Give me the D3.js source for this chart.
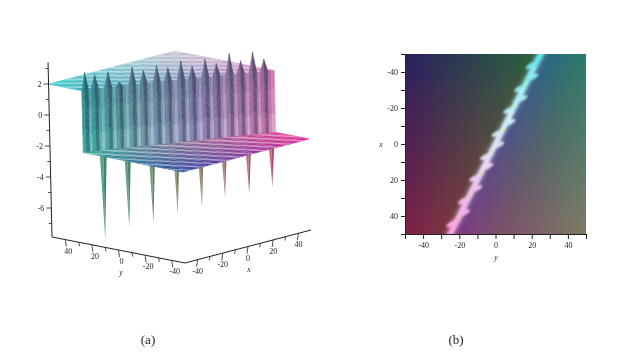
<!DOCTYPE html>
<html>
<head>
<meta charset="utf-8">
<script src="https://cdn.jsdelivr.net/npm/d3@7"></script>
<style>
  html, body { margin: 0; background: #fff; }
  text { font-family: "Liberation Serif", serif; fill: #222; }
</style>
</head>
<body>
<div id="chart"></div>
<script>
// values
const upSpikeX = [-48.4, -43.2, -36.3, -30.5, -23.7, -17.9, -11, -5.2, 1.6, 7.4, 14.2, 20, 26.8, 32.6, 38.9, 44.7];
const upSpikeZ = [3.15, 2.94, 3.03, 2.3, 3.17, 2.89, 3.11, 2.9, 3.25, 2.84, 3.19, 2.85, 3.39, 2.86, 3.34, 2.81];
const downSpikeX = [-39.6, -27, -14.4, -1.7, 10.9, 23, 35.6, 47.7];
const downSpikeZ = [-7.7, -7.1, -7, -6.6, -6.3, -5.8, -5.8, -5.5];
const wallEndX = [-50, 50];
const wallEndY = [25, -25];
const wispX = [-43.6, -37.2, -30.8, -25.2, -18.8, -12, -5.9, 0.5, 7, 12.5, 18.9, 24.8, 31.5, 38.2, 44.3];
const ridgeStops = [-56, -43.6, -30.8, -18.8, -5.9, 7, 18.9, 31.5, 44.3, 56];
const zTicks = [-7, -6, -5, -4, -3, -2, -1, 0, 1, 2, 3];

const wallY = d3.scaleLinear().domain(wallEndX).range(wallEndY);

const svg = d3.select('#chart').append('svg').attr('width', 633).attr('height', 352);
const defs = svg.append('defs');
function blur(id, sd) {
  defs.append('filter').attr('id', id).attr('x', '-30%').attr('y', '-30%').attr('width', '160%').attr('height', '160%')
    .append('feGaussianBlur').attr('stdDeviation', sd);
}
blur('soft', 0.6);
blur('textSoft', 0.22);
blur('glow', 1.1);
blur('wide', 2.2);
defs.append('clipPath').attr('id', 'heatClip').append('rect')
  .attr('x', 405).attr('y', 54).attr('width', 181).attr('height', 180);

// ---- panel (a), 3D surface ----
const zPx = d3.scaleLinear().domain([-7.87, 2]).range([0, 153]);
const xPxX = d3.scaleLinear().domain([-50, 50]).range([0, 126]);
const xPxY = d3.scaleLinear().domain([-50, 50]).range([0, -33]);
const yPxX = d3.scaleLinear().domain([-50, 50]).range([0, -133]);
const yPxY = d3.scaleLinear().domain([-50, 50]).range([0, -26]);

function proj(x, y, z) {
  const h = zPx(z);
  return [185 + xPxX(x) + yPxX(y) - h * 0.0226, 263 + xPxY(x) + yPxY(y) - h];
}

const bilinear = (cols) => (x, y) => {
  const u = (x + 50) / 100, v = (y + 50) / 100;
  return d3.interpolateRgb(
    d3.interpolateRgb(cols[0], cols[1])(u),
    d3.interpolateRgb(cols[2], cols[3])(u)
  )(v);
};
// corners: x-,y- / x+,y- / x-,y+ / x+,y+
const upperColor = bilinear(['#3a62c0', '#d878c0', '#36c8c6', '#c8c4d0']);
const lowerColor = bilinear(['#27409c', '#e02c98', '#2cc890', '#d89090']);
const wallColor = d3.scaleLinear().domain([-50, -20, 10, 50])
  .range(['#35a8a0', '#6a9aa8', '#8a82b4', '#c870a8']);
const downColor = d3.scaleLinear().domain([-50, 0, 50])
  .range(['#2f9a78', '#7e8a6a', '#c8506e']);

const g3d = svg.append('g').attr('filter', 'url(#soft)');
const line = d3.line();

// spikes under the lower plane
const downG = g3d.append('g');
downSpikeX.forEach((x, i) => {
  const y = wallY(x);
  const tip = proj(x, y, downSpikeZ[i]);
  const c = downColor(x);
  downG.append('path')
    .attr('d', line([proj(x - 2.8, y, -2), proj(x, y, -2), tip]) + 'Z')
    .attr('fill', d3.interpolateRgb(c, '#ffffff')(0.12));
  downG.append('path')
    .attr('d', line([proj(x, y, -2), proj(x + 2.8, y, -2), tip]) + 'Z')
    .attr('fill', d3.interpolateRgb(c, '#202020')(0.12));
});

let planeId = 0;
function plane(yFrom, yTo, z, color, tilt) {
  const g = g3d.append('g');
  const n = 40;
  const cells = [];
  d3.range(n).forEach(i => d3.range(n).forEach(j => cells.push([i, j])));
  const at = (i, j) => {
    const x = -50 + 100 * i / n;
    const a = yFrom(x), b = yTo(x);
    return [x, a + (b - a) * j / n];
  };
  g.selectAll('path').data(cells).enter().append('path')
    .attr('d', ([i, j]) => line([at(i, j), at(i + 1, j), at(i + 1, j + 1), at(i, j + 1)].map(p => proj(p[0], p[1], z))) + 'Z')
    .attr('fill', ([i, j]) => color(...at(i + 0.5, j + 0.5)))
    .attr('stroke', ([i, j]) => color(...at(i + 0.5, j + 0.5)))
    .attr('stroke-width', 0.5);
  // faint mesh both ways
  const step = 6.25;
  d3.range(-50, 50.01, step).forEach(x => {
    g.append('path')
      .attr('d', line([proj(x, yFrom(x), z), proj(x, yTo(x), z)]))
      .attr('stroke', '#fff').attr('stroke-opacity', 0.14).attr('stroke-width', 1).attr('fill', 'none');
  });
  d3.range(-50, 50.01, step).forEach(y => {
    const xs = d3.range(-50, 50.01, 1).filter(x => {
      const a = yFrom(x), b = yTo(x);
      return y >= Math.min(a, b) && y <= Math.max(a, b);
    });
    if (xs.length < 2) return;
    g.append('path')
      .attr('d', line([proj(xs[0], y, z), proj(xs[xs.length - 1], y, z)]))
      .attr('stroke', '#fff').attr('stroke-opacity', 0.14).attr('stroke-width', 1).attr('fill', 'none');
  });
  // the mesh beats into almost level bands in the raster, about 4px apart
  const id = 'planeClip' + (planeId++);
  const outline = [[-50, yFrom(-50)], [50, yFrom(50)], [50, yTo(50)], [-50, yTo(-50)]]
    .map(p => proj(p[0], p[1], z));
  defs.append('clipPath').attr('id', id).append('path').attr('d', line(outline) + 'Z');
  const bands = g.append('g').attr('clip-path', `url(#${id})`);
  const xExtent = d3.extent(outline, p => p[0]);
  const yExtent = d3.extent(outline, p => p[1]);
  d3.range(yExtent[0] - 30, yExtent[1] + 30, 3.9).forEach(b => {
    bands.append('path')
      .attr('d', line([[xExtent[0], b], [xExtent[1], b + (xExtent[1] - xExtent[0]) * tilt]]))
      .attr('stroke', '#fff').attr('stroke-opacity', 0.42).attr('stroke-width', 1.4).attr('fill', 'none');
  });
}

plane(x => wallY(x), () => 50, 2, upperColor, 0);

// wall with the pleats and the upper spikes
const nodes = [{ x: -50, z: 2 }];
const shades = [];
const pleatShades = [-0.14, -0.5, 0.0, 0.2];
const halfWidth = 2;
upSpikeX.forEach((x, i) => {
  const z = upSpikeZ[i];
  nodes.push({ x: Math.max(x - halfWidth, -49.9), z: 2 });
  shades.push(pleatShades[3]);
  nodes.push({ x, z });
  shades.push(pleatShades[0]);
  nodes.push({ x: x + halfWidth, z: 2 });
  shades.push(pleatShades[1]);
  const next = i < upSpikeX.length - 1 ? upSpikeX[i + 1] - halfWidth : 50;
  nodes.push({ x: (x + halfWidth + next) / 2, z: 2 });
  shades.push(pleatShades[2]);
});
nodes.push({ x: 50, z: 2 });
shades.push(pleatShades[3]);

const wallG = g3d.append('g');
const rows = 10;
d3.range(nodes.length - 1).forEach(k => {
  const a = nodes[k], b = nodes[k + 1];
  if (b.x <= a.x) return;
  d3.range(rows).forEach(r => {
    const t0 = r / rows, t1 = (r + 1) / rows;
    const pa = t => proj(a.x, wallY(a.x), -2 + (a.z + 2) * t);
    const pb = t => proj(b.x, wallY(b.x), -2 + (b.z + 2) * t);
    const base = wallColor((a.x + b.x) / 2);
    const s = shades[k] + (t0 < 0.25 ? 0.14 : 0) - (t0 > 0.6 ? 0.1 : 0);
    const col = s < 0
      ? d3.interpolateRgb(base, '#22304a')(-s)
      : d3.interpolateRgb(base, '#ffffff')(s);
    wallG.append('path')
      .attr('d', line([pa(t0), pb(t0), pb(t1), pa(t1)]) + 'Z')
      .attr('fill', col).attr('stroke', col).attr('stroke-width', 0.4);
  });
});

plane(() => -50, x => wallY(x), -2, lowerColor, 0.05);

// axes of panel (a)
const labels = svg.append('g').attr('filter', 'url(#textSoft)');
const axisA = svg.append('g').attr('stroke', '#222').attr('fill', 'none');
const zAxisX = z => proj(-50, 50, z)[0];
const zAxisY = z => proj(-50, 50, z)[1];
axisA.append('path').attr('d', line([[zAxisX(-7.87), zAxisY(-7.87)], [zAxisX(3.4), zAxisY(3.4)]])).attr('stroke-width', 1);
zTicks.forEach(z => {
  const major = z % 2 === 0;
  axisA.append('path').attr('stroke-width', 0.8)
    .attr('d', line([[zAxisX(z), zAxisY(z)], [zAxisX(z) - (major ? 5 : 3), zAxisY(z)]]));
  if (major) {
    labels.append('text').attr('x', zAxisX(z) - 7).attr('y', zAxisY(z) + 3)
      .attr('text-anchor', 'end').attr('font-size', 8).text(z);
  }
});
const boxZ = -7.87;
function slantAxis(from, to, values, labelShift, name, namePos) {
  axisA.append('path').attr('d', line([from, to])).attr('stroke-width', 1);
  values.forEach(v => {
    const p = proj(name === 'x' ? v : -50, name === 'y' ? v : -50, boxZ);
    const major = v % 20 === 0;
    axisA.append('path').attr('stroke-width', 0.8)
      .attr('d', line([p, [p[0] + (name === 'y' ? 1 : -1), p[1] + (major ? 7 : 4)]]));
    if (major) {
      labels.append('text').attr('x', p[0] + labelShift[0]).attr('y', p[1] + labelShift[1])
        .attr('text-anchor', 'middle').attr('font-size', 8).text(v);
    }
  });
  labels.append('text').attr('x', namePos[0]).attr('y', namePos[1])
    .attr('text-anchor', 'middle').attr('font-size', 7.5).attr('font-style', 'italic').text(name);
}
const axisVals = [-40, -30, -20, -10, 0, 10, 20, 30, 40];
slantAxis(proj(-50, 50, boxZ), proj(-50, -50, boxZ), axisVals, [3, 14], 'y', [121, 275]);
slantAxis(proj(-50, -50, boxZ), proj(50, -50, boxZ), axisVals, [0, 14], 'x', [249, 272]);

// ---- panel (b), density view ----
const xb = d3.scaleLinear().domain([-50, 50]).range([405, 586]);
const yb = d3.scaleLinear().domain([-50, 50]).range([54, 234]);
const redOf = d3.scaleLinear().domain([-50, 50]).range([42, 126]);
const greenOf = d3.scaleLinear().domain([-50, 50]).range([32, 124]);
const blueOf = d3.scaleLinear().domain([-80, -0.01, 0, 25, 80]).range([98, 62, 136, 106, 100]);
const cellStep = 1;
const cellCoords = d3.range(-50, 50, cellStep);
const heat = svg.append('g').attr('clip-path', 'url(#heatClip)');
const heatInner = heat.append('g').attr('filter', 'url(#soft)');
cellCoords.forEach(x => {
  heatInner.append('g').selectAll('rect').data(cellCoords).enter().append('rect')
    .attr('x', d => xb(d))
    .attr('y', yb(x))
    .attr('width', xb(cellStep) - xb(0) + 1)
    .attr('height', yb(cellStep) - yb(0) + 1)
    .attr('shape-rendering', 'crispEdges')
    .attr('fill', d => `rgb(${redOf(x)},${greenOf(d)},${blueOf(d - wallY(x))})`);
});

const ridgeColor = d3.scaleLinear().domain([-50, -15, 10, 50])
  .range(['#5fe8ec', '#c8f0f8', '#e8d8f4', '#ffa0e4']);
const ridgeG = heat.append('g');
// soft band around the ridge
ridgeG.append('path')
  .attr('d', line([[xb(wallY(-56)), yb(-56)], [xb(wallY(56)), yb(56)]]))
  .attr('stroke', '#bcd0e0').attr('stroke-opacity', 0.4).attr('stroke-width', 9)
  .attr('filter', 'url(#wide)').attr('fill', 'none');
const ridgeCore = ridgeG.append('g').attr('filter', 'url(#glow)');
d3.pairs(ridgeStops).forEach(([a, b]) => {
  ridgeCore.append('path')
    .attr('d', line([[xb(wallY(a)), yb(a)], [xb(wallY(b)), yb(b)]]))
    .attr('stroke', ridgeColor((a + b) / 2)).attr('stroke-width', 5.5).attr('fill', 'none');
});
wispX.forEach((x, i) => {
  const side = i % 2 === 0 ? -1 : 1;
  const px = xb(wallY(x)) + side * 3.6;
  const py = yb(x);
  ridgeCore.append('ellipse').attr('cx', px).attr('cy', py).attr('rx', 6.2).attr('ry', 2.2)
    .attr('transform', `rotate(-28 ${px} ${py})`)
    .attr('fill', ridgeColor(x));
});
const coreColor = d3.scaleLinear().domain([-50, -10, 30]).range(['#b8f080', '#f0f080', '#f8b878']);
wispX.filter((x, i) => i % 2 === 1).forEach(x => {
  ridgeG.append('path')
    .attr('d', line([[xb(wallY(x + 2.4)), yb(x + 2.4)], [xb(wallY(x + 5.4)), yb(x + 5.4)]]))
    .attr('stroke', coreColor(x)).attr('stroke-width', 1).attr('fill', 'none');
});

const bLeft = d3.axisLeft(yb).tickValues(d3.range(-50, 50.01, 10)).tickSize(4).tickFormat(d => (d % 20 === 0 ? d : ''));
const bBottom = d3.axisBottom(xb).tickValues(d3.range(-50, 50.01, 10)).tickSize(5).tickFormat(d => (d % 20 === 0 ? d : ''));
[svg.append('g').attr('transform', 'translate(405,0)').call(bLeft),
 svg.append('g').attr('transform', 'translate(0,234)').call(bBottom)].forEach(a => {
  a.attr('filter', 'url(#textSoft)');
  a.selectAll('text').attr('font-size', 8).attr('font-family', null);
  a.selectAll('line').attr('stroke', '#222');
  a.select('.domain').attr('stroke', '#222').attr('stroke-width', 1);
});
labels.append('text').attr('x', 381).attr('y', 147).attr('text-anchor', 'middle')
  .attr('font-size', 7.5).attr('font-style', 'italic').text('x');
labels.append('text').attr('x', 496).attr('y', 260).attr('text-anchor', 'middle')
  .attr('font-size', 7.5).attr('font-style', 'italic').text('y');

// captions
labels.append('text').attr('x', 148).attr('y', 344).attr('text-anchor', 'middle').attr('font-size', 13).text('(a)');
labels.append('text').attr('x', 456).attr('y', 344).attr('text-anchor', 'middle').attr('font-size', 13).text('(b)');
</script>
</body>
</html>
